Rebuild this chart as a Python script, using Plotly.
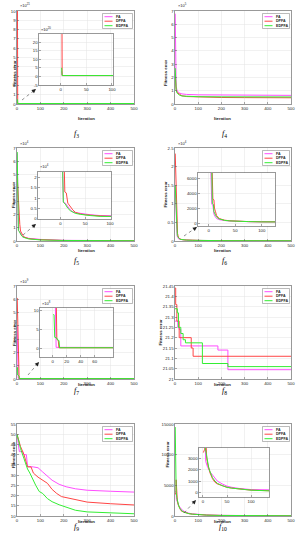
import plotly.graph_objects as go

W, H = 302, 550
COLORS = {'FA': '#ff4dff', 'DPFA': '#ff4545', 'EDPFA': '#33ee33'}
SERIES = ['FA', 'DPFA', 'EDPFA']

# ---------------- data ----------------
# f3
f3_fa_x = [2, 3, 500];        f3_fa_y = [3e20, 5e19, 5e19]
f3_dpfa_x = [2, 3, 500];      f3_dpfa_y = [1e22, 5e19, 5e19]
f3_edpfa_x = [2, 3, 500];     f3_edpfa_y = [5e20, 5e19, 5e19]
# f4
f4_x = [1, 3, 5, 10, 20, 30, 50, 100, 200, 300, 500]
f4_fa_y = [6.8e5, 2.0e5, 1.3e5, 0.95e5, 0.82e5, 0.76e5, 0.72e5, 0.69e5, 0.67e5, 0.66e5, 0.65e5]
f4_dpfa_y = [2.2e5, 1.5e5, 1.1e5, 0.85e5, 0.7e5, 0.62e5, 0.56e5, 0.52e5, 0.49e5, 0.48e5, 0.47e5]
f4_edpfa_y = [2.7e5, 1.6e5, 1.0e5, 0.8e5, 0.66e5, 0.6e5, 0.57e5, 0.55e5, 0.54e5, 0.53e5, 0.53e5]
# f5
f5_fa_x = [1, 5, 6, 10, 15, 20, 25, 30, 40, 50, 60, 80, 100, 200, 300, 500]
f5_fa_y = [6.6e4, 2.4e4, 0.8e4, 0.75e4, 0.55e4, 0.42e4, 0.32e4, 0.28e4, 0.25e4, 0.2e4, 0.18e4, 0.14e4, 0.12e4, 0.05e4, 0.03e4, 0.02e4]
f5_dpfa_x = [1, 8, 9, 12, 15, 20, 25, 30, 40, 50, 60, 80, 100, 200, 300, 500]
f5_dpfa_y = [4.8e4, 2.4e4, 1.3e4, 1.25e4, 0.75e4, 0.55e4, 0.42e4, 0.3e4, 0.22e4, 0.18e4, 0.15e4, 0.12e4, 0.1e4, 0.04e4, 0.03e4, 0.02e4]
f5_edpfa_x = [1, 5, 6, 10, 15, 20, 25, 30, 40, 50, 60, 80, 100, 200, 300, 500]
f5_edpfa_y = [6.7e4, 2.1e4, 0.8e4, 0.7e4, 0.5e4, 0.38e4, 0.3e4, 0.25e4, 0.2e4, 0.16e4, 0.14e4, 0.1e4, 0.08e4, 0.04e4, 0.03e4, 0.02e4]
# f6
f6_fa_x = [1, 5, 6, 8, 10, 12, 15, 20, 25, 30, 40, 50, 75, 100, 125, 200, 500]
f6_fa_y = [15000, 6800, 2500, 2400, 1200, 900, 600, 450, 380, 330, 270, 230, 180, 150, 120, 90, 60]
f6_dpfa_x = [1, 7, 8, 10, 11, 13, 15, 20, 25, 30, 40, 50, 75, 100, 125, 200, 500]
f6_dpfa_y = [23500, 6800, 3200, 3100, 2000, 1500, 1000, 600, 450, 380, 300, 250, 190, 160, 130, 90, 60]
f6_edpfa_x = [1, 6, 7, 9, 10, 12, 15, 20, 25, 30, 40, 50, 75, 100, 125, 200, 500]
f6_edpfa_y = [15000, 6800, 2600, 2500, 1500, 1200, 800, 550, 420, 350, 280, 240, 190, 150, 120, 90, 60]
# f7
f7_fa_x = [1, 4, 5, 500];                 f7_fa_y = [4e9, 1.1e9, 4e7, 3e7]
f7_dpfa_x = [1, 5, 6, 8, 9, 500];          f7_dpfa_y = [6.1e9, 1.1e9, 2.5e8, 2.2e8, 3e7, 3e7]
f7_edpfa_x = [1, 2, 3, 6, 7, 9, 10, 500];  f7_edpfa_y = [9e8, 8.8e8, 3e8, 2.8e8, 2.3e8, 2.2e8, 3e7, 3e7]
# f8 (step curves)
f8_fa_x = [0, 12, 18, 25, 185, 228, 500]
f8_fa_y = [21.28, 21.25, 21.24, 21.16, 21.14, 21.045, 21.045]
f8_dpfa_x = [0, 3, 8, 18, 70, 78, 500]
f8_dpfa_y = [21.44, 21.36, 21.28, 21.2, 21.15, 21.11, 21.11]
f8_edpfa_x = [0, 10, 15, 25, 35, 45, 118, 228, 500]
f8_edpfa_y = [21.34, 21.32, 21.25, 21.22, 21.19, 21.175, 21.075, 21.06, 21.06]
# f9
f9_fa_x = [0, 10, 25, 27, 40, 45, 70, 90, 110, 130, 150, 180, 210, 250, 300, 400, 500]
f9_fa_y = [50, 41.5, 41.5, 40, 40, 34.3, 34, 33.6, 31.5, 29.5, 27.5, 25.5, 24.3, 23.3, 22.6, 22.1, 21.7]
f9_dpfa_x = [0, 15, 30, 45, 60, 70, 90, 110, 130, 150, 170, 190, 210, 250, 300, 400, 500]
f9_dpfa_y = [50, 44, 40, 34, 34, 31, 29, 27.5, 26, 23, 21, 19.5, 19, 17.8, 16.8, 16, 15.4]
f9_edpfa_x = [0, 15, 30, 45, 55, 70, 80, 95, 110, 130, 150, 180, 210, 250, 300, 400, 500]
f9_edpfa_y = [50, 43, 38, 33, 31, 27, 25, 22, 21, 18.5, 17, 15.5, 14.2, 12.8, 12, 11.4, 11.1]
# f10
f10_fa_x = [1, 5, 6, 10, 15, 20, 25, 30, 40, 50, 60, 75, 100, 137, 200, 300, 500]
f10_fa_y = [4000, 3900, 2700, 2200, 1800, 1500, 1200, 1000, 750, 550, 450, 350, 250, 170, 100, 60, 40]
f10_dpfa_x = [1, 4, 5, 7, 8, 10, 15, 20, 25, 30, 40, 50, 60, 75, 100, 137, 200, 300, 500]
f10_dpfa_y = [3500, 3800, 5900, 3900, 3000, 2500, 1700, 1200, 900, 750, 600, 450, 380, 300, 200, 150, 90, 60, 40]
f10_edpfa_x = [1, 2, 5, 8, 10, 12, 15, 20, 25, 30, 40, 50, 60, 75, 100, 137, 200, 300, 500]
f10_edpfa_y = [14500, 6000, 3900, 3000, 2400, 2200, 1800, 1300, 1000, 800, 600, 450, 380, 300, 200, 140, 90, 60, 40]

# tick labels
iter_ticks = [0, 100, 200, 300, 400, 500]
f3_yticks = [0, 1, 2, 3, 4, 5, 6, 7, 8, 9, 10]; f3_scale = 1e21
f4_yticks = [0, 1, 2, 3, 4, 5, 6, 7];          f4_scale = 1e5
f5_yticks = [0, 1, 2, 3, 4, 5, 6, 7];          f5_scale = 1e4
f6_yticks = [0, 0.5, 1, 1.5, 2, 2.5];           f6_scale = 1e4
f7_yticks = [0, 1, 2, 3, 4, 5, 6, 7];          f7_scale = 1e9
f8_yticks = [21, 21.05, 21.1, 21.15, 21.2, 21.25, 21.3, 21.35, 21.4, 21.45]
f9_yticks = [10, 15, 20, 25, 30, 35, 40, 45, 50, 55]
f10_yticks = [0, 5000, 10000, 15000]
ins3_xticks = [0, 50, 100];    ins3_yticks = [-5, 0, 5, 10, 15, 20];  ins3_scale = 1e20
ins5_xticks = [0, 50, 100];    ins5_yticks = [0, 0.5, 1, 1.5, 2];     ins5_scale = 1e4
ins6_xticks = [0, 50, 100];    ins6_yticks = [0, 2000, 4000, 6000]
ins7_xticks = [0, 20, 40, 60]; ins7_yticks = [0, 5, 10];              ins7_scale = 1e8
ins10_xticks = [0, 50, 100];   ins10_yticks = [0, 1000, 2000, 3000]


def lab(v):
    return ('%g' % v)


def scaled(ticks, s):
    return [t * s for t in ticks], [lab(t) for t in ticks]


series = {
    3: [(f3_fa_x, f3_fa_y), (f3_dpfa_x, f3_dpfa_y), (f3_edpfa_x, f3_edpfa_y)],
    4: [(f4_x, f4_fa_y), (f4_x, f4_dpfa_y), (f4_x, f4_edpfa_y)],
    5: [(f5_fa_x, f5_fa_y), (f5_dpfa_x, f5_dpfa_y), (f5_edpfa_x, f5_edpfa_y)],
    6: [(f6_fa_x, f6_fa_y), (f6_dpfa_x, f6_dpfa_y), (f6_edpfa_x, f6_edpfa_y)],
    7: [(f7_fa_x, f7_fa_y), (f7_dpfa_x, f7_dpfa_y), (f7_edpfa_x, f7_edpfa_y)],
    8: [(f8_fa_x, f8_fa_y), (f8_dpfa_x, f8_dpfa_y), (f8_edpfa_x, f8_edpfa_y)],
    9: [(f9_fa_x, f9_fa_y), (f9_dpfa_x, f9_dpfa_y), (f9_edpfa_x, f9_edpfa_y)],
    10: [(f10_fa_x, f10_fa_y), (f10_dpfa_x, f10_dpfa_y), (f10_edpfa_x, f10_edpfa_y)],
}

L, R = (17, 134), (175, 291)
rows = [(11, 104), (148, 241), (286, 379), (424, 516)]
flabel_y = [127, 261, 397.5, 534]
mains = [
    (3, L, 0, [0, 1e22], scaled(f3_yticks, f3_scale), '×10<sup>21</sup>', 10, 'linear'),
    (4, R, 0, [0, 7e5], scaled(f4_yticks, f4_scale), '×10<sup>5</sup>', 166, 'linear'),
    (5, L, 1, [0, 7e4], scaled(f5_yticks, f5_scale), '×10<sup>4</sup>', 9, 'linear'),
    (6, R, 1, [0, 2.5e4], scaled(f6_yticks, f6_scale), '×10<sup>4</sup>', 165, 'linear'),
    (7, L, 2, [0, 7e9], scaled(f7_yticks, f7_scale), '×10<sup>9</sup>', 10, 'linear'),
    (8, R, 2, [21, 21.45], (f8_yticks, [lab(v) for v in f8_yticks]), None, 160, 'hv'),
    (9, L, 3, [10, 55], (f9_yticks, [lab(v) for v in f9_yticks]), None, 9, 'linear'),
    (10, R, 3, [0, 15000], (f10_yticks, [lab(v) for v in f10_yticks]), None, 167, 'linear'),
]
insets = [
    (3, (39, 113, 34, 85), [-42, 102], [-5e20, 2.47e21], ins3_xticks, scaled(ins3_yticks, ins3_scale), '×10<sup>20</sup>', (22, 100), (36, 89)),
    (5, (38, 111, 172, 219), [-45, 102], [-0.03e4, 2.28e4], ins5_xticks, scaled(ins5_yticks, ins5_scale), '×10<sup>4</sup>', (23, 235), (36, 224)),
    (6, (198, 275, 173, 226), [-20, 125], [-400, 6700], ins6_xticks, (ins6_yticks, [lab(v) for v in ins6_yticks]), None, (184, 236), (197, 227)),
    (7, (40, 113, 308, 357), [-18, 86], [-2.1e8, 1.06e9], ins7_xticks, scaled(ins7_yticks, ins7_scale), '×10<sup>8</sup>', (28, 375), (39, 362)),
    (10, (199, 269, 448, 497), [-8, 137], [-400, 3900], ins10_xticks, (ins10_yticks, [lab(v) for v in ins10_yticks]), None, (184, 513), (196, 500)),
]

FONT = 'Liberation Sans'
TICKFONT = dict(size=4.3, family=FONT, color='#262626')


def ax(dom, rng, tv, tt, anchor):
    return dict(domain=dom, range=rng, tickvals=tv, ticktext=tt, anchor=anchor,
                showline=True, mirror=True, linecolor='#555555', linewidth=0.6,
                ticks='inside', ticklen=2, tickwidth=0.5, tickcolor='#555555',
                showgrid=True, gridcolor='#e4e4e4', gridwidth=0.5, zeroline=False,
                tickfont=TICKFONT, fixedrange=True, automargin=False)


def px2x(p):
    return p / W


def px2y(p):
    return 1 - p / H


fig = go.Figure()
layout = dict(width=W, height=H, margin=dict(l=0, r=0, t=0, b=0),
              paper_bgcolor='white', plot_bgcolor='white', showlegend=False)
shapes, annots = [], []

n = 0
for (fn, xc, ri, yr, (ytv, ytt), expo, ylx, shp) in mains:
    yc = rows[ri]
    n += 1
    sx = '' if n == 1 else str(n)
    layout['xaxis' + sx] = ax([px2x(xc[0]), px2x(xc[1])], [0, 500], iter_ticks,
                              [str(t) for t in iter_ticks], 'y' + sx)
    layout['yaxis' + sx] = ax([px2y(yc[1]), px2y(yc[0])], yr, ytv, ytt, 'x' + sx)
    for name, (xs, ys) in zip(SERIES, series[fn]):
        fig.add_trace(go.Scatter(x=xs, y=ys, xaxis='x' + sx, yaxis='y' + sx, mode='lines',
                                 line=dict(color=COLORS[name], width=1, shape=shp),
                                 hoverinfo='skip'))
    annots.append(dict(x=px2x(ylx), y=px2y((yc[0] + yc[1]) / 2), xref='paper', yref='paper',
                       text='<b>Fitness error</b>', textangle=-90, showarrow=False,
                       font=dict(size=4.3, family=FONT, color='#262626')))
    annots.append(dict(x=px2x((xc[0] + xc[1]) / 2), y=px2y(yc[1] + 10), xref='paper', yref='paper',
                       text='<b>Iteration</b>', showarrow=False,
                       font=dict(size=4.3, family=FONT, color='#262626')))
    fx = 72 if xc == L else 229
    annots.append(dict(x=px2x(fx), y=px2y(flabel_y[ri]), xref='paper', yref='paper',
                       text='<i>f</i><sub>%d</sub>' % fn, showarrow=False,
                       font=dict(size=8, family='Liberation Serif', color='black')))
    if expo:
        annots.append(dict(x=px2x(xc[0] + 1), y=px2y(yc[0] - 0.5), xref='paper', yref='paper',
                           xanchor='left', yanchor='bottom', text=expo, showarrow=False,
                           font=dict(size=4, family=FONT, color='#262626')))
    bx1 = xc[1] - 1.5
    bx0 = bx1 - (30 if xc == L else 27)
    by0 = yc[0] + 2.5
    shapes.append(dict(type='rect', xref='paper', yref='paper', layer='above',
                       x0=px2x(bx0), x1=px2x(bx1), y0=px2y(by0), y1=px2y(by0 + 15),
                       fillcolor='white', line=dict(color='#777777', width=0.5)))
    for k, name in enumerate(SERIES):
        yy = by0 + 3.2 + k * 4.5
        shapes.append(dict(type='line', xref='paper', yref='paper', layer='above',
                           x0=px2x(bx0 + 2), x1=px2x(bx0 + 10), y0=px2y(yy), y1=px2y(yy),
                           line=dict(color=COLORS[name], width=1)))
        annots.append(dict(x=px2x(bx0 + 11), y=px2y(yy), xref='paper', yref='paper',
                           xanchor='left', yanchor='middle', text='<b>%s</b>' % name, showarrow=False,
                           font=dict(size=3.6, family=FONT, color='#262626')))

for (fn, (x0, x1, y0, y1), xr, yr, xt, (ytv, ytt), expo, tail, head) in insets:
    n += 1
    sx = str(n)
    layout['xaxis' + sx] = ax([px2x(x0), px2x(x1)], xr, xt, [str(t) for t in xt], 'y' + sx)
    layout['yaxis' + sx] = ax([px2y(y1), px2y(y0)], yr, ytv, ytt, 'x' + sx)
    shapes.append(dict(type='rect', xref='x' + sx, yref='y' + sx, layer='below',
                       x0=xr[0], x1=xr[1], y0=yr[0], y1=yr[1],
                       fillcolor='white', line=dict(width=0)))
    for name, (xs, ys) in zip(SERIES, series[fn]):
        fig.add_trace(go.Scatter(x=xs, y=ys, xaxis='x' + sx, yaxis='y' + sx, mode='lines',
                                 line=dict(color=COLORS[name], width=1), hoverinfo='skip'))
    if expo:
        annots.append(dict(x=px2x(x0), y=px2y(y0 - 0.5), xref='paper', yref='paper',
                           xanchor='left', yanchor='bottom', text=expo, showarrow=False,
                           font=dict(size=4, family=FONT, color='#262626')))
    shapes.append(dict(type='line', xref='paper', yref='paper', layer='above',
                       x0=px2x(tail[0]), y0=px2y(tail[1]), x1=px2x(head[0]), y1=px2y(head[1]),
                       line=dict(color='#444444', width=0.6, dash='dot')))
    annots.append(dict(x=px2x(head[0]), y=px2y(head[1]), xref='paper', yref='paper',
                       ax=(tail[0] - head[0]) * 0.35, ay=(tail[1] - head[1]) * 0.35,
                       text='', showarrow=True, arrowhead=2, arrowsize=1.2, arrowwidth=0.7,
                       arrowcolor='#222222'))

layout['shapes'] = shapes
layout['annotations'] = annots
fig.update_layout(**layout)
fig.write_html('out.html', config={'displayModeBar': False, 'staticPlot': True},
               post_script="document.body.style.margin='0';document.body.style.overflow='hidden';")
